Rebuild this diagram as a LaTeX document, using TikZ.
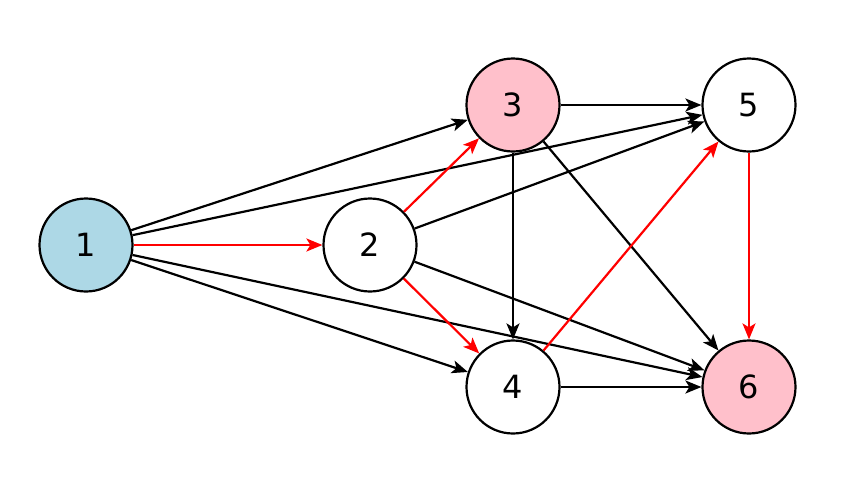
\documentclass[tikz,border=0pt]{standalone}
\usepackage{fontspec}
\setmainfont{DejaVu Sans}
\usetikzlibrary{arrows.meta}
\definecolor{lblue}{RGB}{173,216,230}
\definecolor{lpink}{RGB}{255,192,203}
\tikzset{
  vert/.style={circle,draw=black,line width=2.2pt,minimum size=93pt,inner sep=0pt,font=\fontsize{32}{38}\selectfont},
  edge/.style={draw=black,line width=2.2pt,-{Stealth[length=16pt,width=13pt,inset=4pt]}},
  redge/.style={edge,draw=red}
}
\begin{document}
\begin{tikzpicture}[x=1pt,y=-1pt]
\useasboundingbox (0,0) rectangle (846,480);
\node[vert,fill=lblue] (n1) at (86,245) {1};
\node[vert,fill=white] (n2) at (370,245) {2};
\node[vert,fill=lpink] (n3) at (513,105) {3};
\node[vert,fill=white] (n4) at (513,387) {4};
\node[vert,fill=white] (n5) at (749,105) {5};
\node[vert,fill=lpink] (n6) at (749,387) {6};
\draw[edge] (n1) -- (n3);
\draw[edge] (n1) -- (n5);
\draw[redge] (n1) -- (n2);
\draw[edge] (n1) -- (n4);
\draw[edge] (n1) -- (n6);
\draw[redge] (n2) -- (n3);
\draw[edge] (n2) -- (n5);
\draw[redge] (n2) -- (n4);
\draw[edge] (n2) -- (n6);
\draw[edge] (n3) -- (n5);
\draw[edge] (n3) -- (n4);
\draw[edge] (n3) -- (n6);
\draw[edge] (n4) -- (n6);
\draw[redge] (n4) -- (n5);
\draw[redge] (n5) -- (n6);
\end{tikzpicture}
\end{document}
